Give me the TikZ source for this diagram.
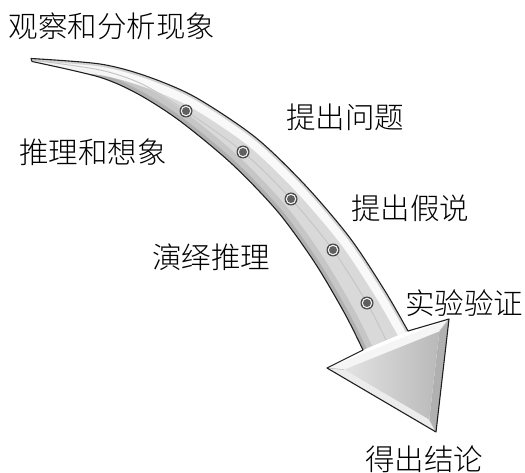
\documentclass[tikz,border=0pt]{standalone}
\usepackage{fontspec}
\newfontfamily\cjk{Noto Sans CJK SC}[UprightFont=* Light]
\usepackage{tikz}
\usetikzlibrary{shapes, arrows, positioning, calc}

\tikzset{
    steplabel/.style={font=\cjk\fontsize{29.5}{30}\selectfont, inner sep=0pt},
    arrowline/.style={draw=gray!25!black, line width=1.1pt, line join=round},
}

\begin{document}
\begin{tikzpicture}[x=1pt, y=-1pt]
            \useasboundingbox (0,0) rectangle (525,473);

            % upper (outer) edge of the shaft
            \coordinate (u0) at (31,58.5);
            \coordinate (u1) at (100,64);
            \coordinate (u2) at (146,76);
            \coordinate (u3) at (195,97);
            \coordinate (u4) at (255,137);
            \coordinate (u5) at (305,185);
            \coordinate (u6) at (350,238);
            \coordinate (u7) at (385,291);
            \coordinate (u8) at (408,331);
            % lower (inner) edge of the shaft
            \coordinate (l0) at (32,61.5);
            \coordinate (l1) at (99,77);
            \coordinate (l2) at (138,94);
            \coordinate (l3) at (180,121);
            \coordinate (l4) at (232,164);
            \coordinate (l5) at (278,212);
            \coordinate (l6) at (315,263);
            \coordinate (l7) at (345,314);
            \coordinate (l8) at (363,350);
            % head
            \coordinate (HL) at (327,368);% left wing
            \coordinate (HR) at (449,319);% right wing
            \coordinate (HT) at (436,432);% tip
            \coordinate (HC) at ($(HL)!0.5!(HR)!0.36!(HT)$);
            \coordinate (IL) at ($(HL)!0.22!(HC)$);
            \coordinate (IR) at ($(HR)!0.22!(HC)$);
            \coordinate (IT) at ($(HT)!0.22!(HC)$);
            % dots on the middle of the shaft
            \coordinate (d1) at (186,111);
            \coordinate (d2) at (243,152);
            \coordinate (d3) at (291,199);
            \coordinate (d4) at (333,250);
            \coordinate (d5) at (367,303);

            \newcommand{\UpperEdge}{plot[smooth] coordinates {(u0) (u1) (u2) (u3) (u4) (u5) (u6) (u7) (u8)}}
            \newcommand{\LowerEdge}{plot[smooth] coordinates {(l0) (l1) (l2) (l3) (l4) (l5) (l6) (l7) (l8)}}
            \newcommand{\Shaft}{plot[smooth] coordinates {(u0) (u1) (u2) (u3) (u4) (u5) (u6) (u7) (u8)} -- plot[smooth] coordinates {(l8) (l7) (l6) (l5) (l4) (l3) (l2) (l1) (l0)} -- cycle}

            % shaft
            \fill[gray!30] \Shaft;
            \begin{scope}
                \clip \Shaft;
                \draw[gray!45, line width=20pt] \LowerEdge;
                \draw[gray!62, line width=8pt] \LowerEdge;
                \draw[white, line width=22pt, opacity=0.85] \UpperEdge;
                \draw[gray!35, line width=5pt] \UpperEdge;
                \draw[gray!45, line width=1pt] plot[smooth] coordinates {(32,60) (100,70) (142,84) (d1) (d2) (d3) (d4) (d5) (386,340)};
            \end{scope}

            % head
            \fill[gray!8] (HL) -- (HR) -- (IR) -- (IL) -- cycle;
            \fill[gray!15] (HL) -- (HT) -- (IT) -- (IL) -- cycle;
            \fill[gray!62] (HR) -- (HT) -- (IT) -- (IR) -- cycle;
            \shade[left color=gray!22, right color=gray!55] (IL) -- (IR) -- (IT) -- cycle;
            \draw[gray!50, line width=0.6pt] (HL) -- (IL) (HR) -- (IR) (HT) -- (IT);

            % outline
            \draw[arrowline] \UpperEdge -- (HR) -- (HT) -- (HL) -- plot[smooth] coordinates {(l8) (l7) (l6) (l5) (l4) (l3) (l2) (l1) (l0)} -- cycle;

            \foreach \d in {d1,d2,d3,d4,d5} {
                \fill[gray!55!black] (\d) circle (6.5);
                \fill[gray!8] (\d) circle (5.3);
                \fill[gray!75!black] (\d) circle (4);
            }

            \node[steplabel] (observe) at (112,26) {观察和分析现象};
            \node[steplabel] (question) at (345,117) {提出问题};
            \node[steplabel] (imagine) at (93,152) {推理和想象};
            \node[steplabel] (hypothesis) at (410,208) {提出假说};
            \node[steplabel] (deduce) at (211,257) {演绎推理};
            \node[steplabel] (experiment) at (464,303) {实验验证};
            \node[steplabel] (conclude) at (424,459) {得出结论};
        \end{tikzpicture}
\end{document}
